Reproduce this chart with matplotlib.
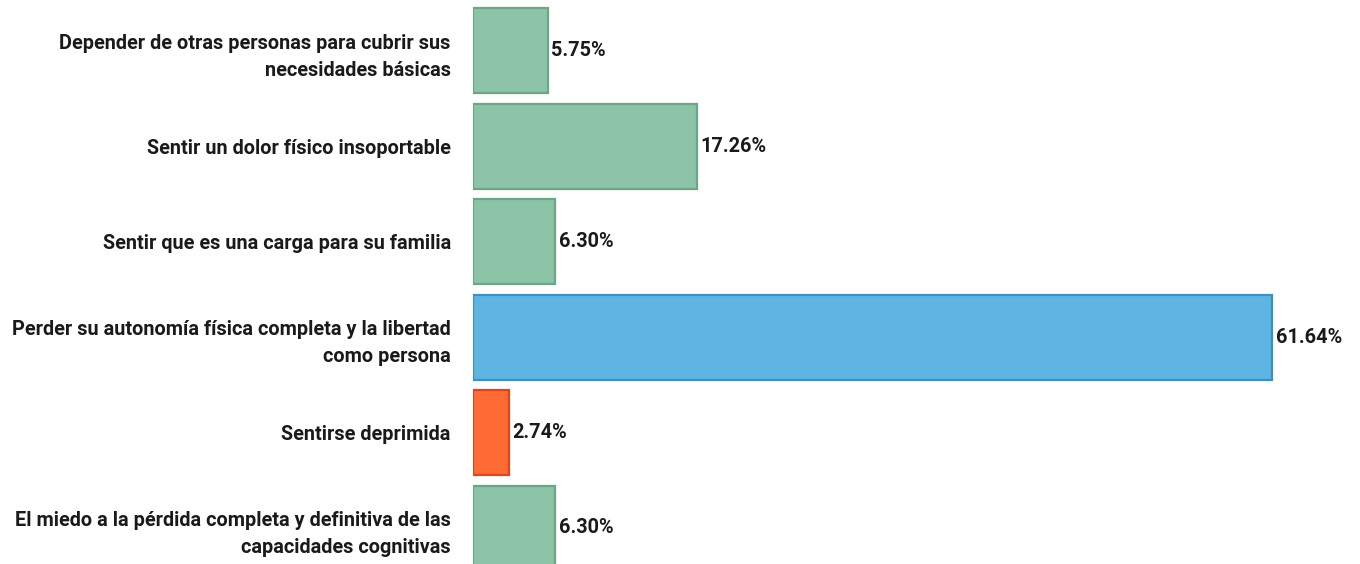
import matplotlib.pyplot as plt

categories = [
    "Depender de otras personas para cubrir sus\nnecesidades básicas",
    "Sentir un dolor físico insoportable",
    "Sentir que es una carga para su familia",
    "Perder su autonomía física completa y la libertad\ncomo persona",
    "Sentirse deprimida",
    "El miedo a la pérdida completa y definitiva de las\ncapacidades cognitivas",
]
values = [5.75, 17.26, 6.30, 61.64, 2.74, 6.30]
value_labels = ["5.75%", "17.26%", "6.30%", "61.64%", "2.74%", "6.30%"]

green, green_edge = "#8dc3a7", "#6aa687"
blue, blue_edge = "#5eb5e2", "#3b8fc2"
orange, orange_edge = "#ff6a35", "#d9471a"
fills = [green, green, green, blue, orange, green]
edges = [green_edge, green_edge, green_edge, blue_edge, orange_edge, green_edge]

plt.rcParams['font.family'] = ['Roboto', 'DejaVu Sans']

fig = plt.figure(figsize=(13.6, 5.64), dpi=100)
ax = fig.add_axes([0.3478, 0.0, 0.6522, 1.0])

pos = list(range(len(categories)))
ax.barh(pos, values, height=0.89, color=fills, edgecolor=edges, linewidth=1.6)

# подписи значений справа от столбцов
for p, v, lab in zip(pos, values, value_labels):
    ax.text(v + 0.3, p, lab, va="center", ha="left", fontsize=14.3,
            fontweight="bold", color="#1a1a1a")

ax.set_yticks(pos)
ax.set_yticklabels(categories, fontsize=14.3, fontweight="bold", color="#1a1a1a",
                   linespacing=1.55)
ax.tick_params(axis="y", length=0, pad=16)
ax.set_xticks([])
ax.set_xlim(0, 68.4)
ax.set_ylim(5.377, -0.529)
for s in ax.spines.values():
    s.set_visible(False)

fig.savefig("out.png", dpi=100)
